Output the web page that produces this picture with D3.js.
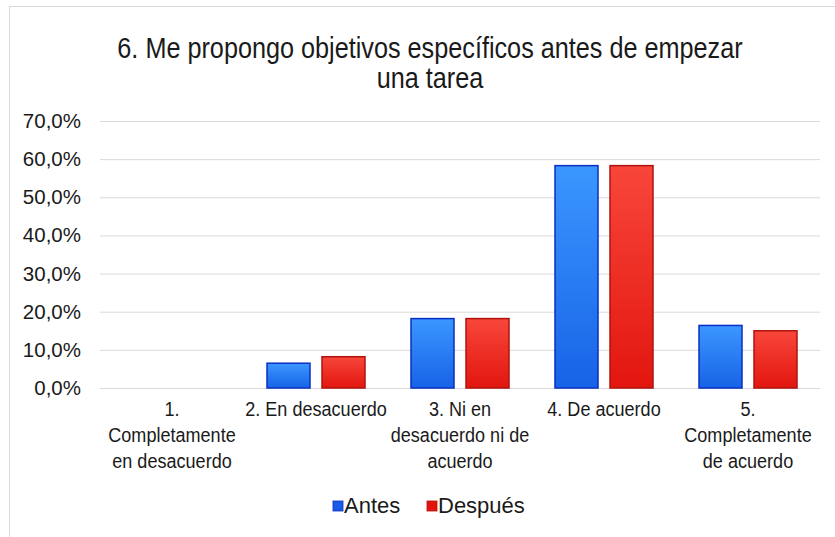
<!DOCTYPE html>
<html>
  <head>
    <meta charset="utf-8">
    <title>Me propongo objetivos</title>
    <script type="text/javascript" src="https://d3js.org/d3.v7.min.js"></script>
    <style>
      body { margin: 0; background: #fff; }
      text { font-family: "Liberation Sans", Arial, sans-serif; fill: #1a1a1a; }
    </style>
  </head>
  <body>
    <svg width="835" height="537"></svg>
    <script type="text/javascript">
      // data
      var categories = ["1. Completamente en desacuerdo", "2. En desacuerdo", "3. Ni en desacuerdo ni de acuerdo", "4. De acuerdo", "5. Completamente de acuerdo"];
      var categoryLines = [
        ["1.", "Completamente", "en desacuerdo"],
        ["2. En desacuerdo"],
        ["3. Ni en", "desacuerdo ni de", "acuerdo"],
        ["4. De acuerdo"],
        ["5.", "Completamente", "de acuerdo"]
      ];
      var seriesNames = ["Antes", "Después"];
      var antes = [0, 6.5, 18.2, 58.3, 16.4];
      var despues = [0, 8.2, 18.2, 58.3, 15.0];
      var yTicks = [0, 10, 20, 30, 40, 50, 60, 70];
      var titleLines = ["6. Me propongo objetivos específicos antes de empezar", "una tarea"];

      var svg = d3.select("svg");

      // chart frame
      svg.append("rect")
        .attr("x", 9.5).attr("y", 6.5)
        .attr("width", 900).attr("height", 600)
        .attr("fill", "none").attr("stroke", "#d9d9d9");

      var defs = svg.append("defs");
      function grad(id, top, bottom) {
        var g = defs.append("linearGradient").attr("id", id)
          .attr("x1", 0).attr("y1", 0).attr("x2", 0).attr("y2", 1);
        g.append("stop").attr("offset", "0%").attr("stop-color", top);
        g.append("stop").attr("offset", "100%").attr("stop-color", bottom);
      }
      grad("gBlue", "#3b97ff", "#1763e6");
      grad("gRed", "#f8463b", "#e2160f");
      var fills = ["url(#gBlue)", "url(#gRed)"];
      var strokes = ["#0a2fc4", "#b0130c"];
      var swatch = ["#1a5be8", "#e3140e"];

      var x0 = d3.scaleBand().domain(categories).range([100, 820])
        .paddingInner(0.3125).paddingOuter(0.15625);
      var x1 = d3.scaleBand().domain(seriesNames).range([0, x0.bandwidth()]).paddingInner(0.2);
      var y = d3.scaleLinear().domain([0, 70]).range([388, 121]);

      // title (squeezed a bit, the original font is a narrow one)
      svg.append("text")
        .attr("transform", "translate(430,58) scale(0.87,1)")
        .attr("text-anchor", "middle")
        .style("font-size", "29px")
        .selectAll("tspan").data(titleLines).enter().append("tspan")
        .attr("x", 0).attr("dy", function (d, i) { return i ? 30 : 0; })
        .text(function (d) { return d; });

      // gridlines + y labels
      var yAxis = d3.axisLeft(y).tickValues(yTicks).tickSize(-720)
        .tickFormat(function (d) { return d.toFixed(1).replace(".", ",") + "%"; });
      var ga = svg.append("g").attr("transform", "translate(100,0)").call(yAxis);
      ga.select(".domain").remove();
      ga.selectAll(".tick line").attr("stroke", "#d9d9d9");
      ga.selectAll(".tick text").attr("x", -19)
        .style("font-size", "20.5px").style("font-family", "Liberation Sans, Arial, sans-serif")
        .attr("fill", "#1a1a1a");

      // bars
      var rows = categories.map(function (c, i) { return { cat: c, vals: [antes[i], despues[i]] }; });
      var cg = svg.selectAll("g.cat").data(rows).enter().append("g")
        .attr("class", "cat")
        .attr("transform", function (d) { return "translate(" + x0(d.cat) + ",0)"; });
      cg.selectAll("rect").data(function (d) {
          return d.vals.map(function (v, j) { return { s: seriesNames[j], v: v, j: j }; });
        })
        .enter().append("rect")
        .filter(function (d) { return d.v > 0; })
        .attr("x", function (d) { return x1(d.s) + 0.5; })
        .attr("y", function (d) { return y(d.v); })
        .attr("width", x1.bandwidth() - 1)
        .attr("height", function (d) { return y(0) - y(d.v); })
        .attr("fill", function (d) { return fills[d.j]; })
        .attr("stroke", function (d) { return strokes[d.j]; })
        .attr("stroke-width", 1.5);

      // x labels
      svg.selectAll("text.xl").data(categories).enter().append("text")
        .attr("class", "xl")
        .attr("text-anchor", "middle")
        .attr("transform", function (d) {
          return "translate(" + (x0(d) + x0.bandwidth() / 2) + ",416) scale(0.86,1)";
        })
        .style("font-size", "21px")
        .each(function (d, i) {
          d3.select(this).selectAll("tspan").data(categoryLines[i]).enter().append("tspan")
            .attr("x", 0).attr("dy", function (t, k) { return k ? 26 : 0; })
            .text(function (t) { return t; });
        });

      // legend
      var legX = [333, 427];
      var lg = svg.selectAll("g.leg").data(seriesNames).enter().append("g")
        .attr("class", "leg")
        .attr("transform", function (d, i) { return "translate(" + legX[i] + ",501)"; });
      lg.append("rect").attr("width", 10).attr("height", 10)
        .attr("fill", function (d, i) { return swatch[i]; })
        .attr("stroke", function (d, i) { return strokes[i]; }).attr("stroke-width", 0.8);
      lg.append("text").attr("x", 11).attr("y", 12)
        .style("font-size", "22px")
        .text(function (d) { return d; });
    </script>
  </body>
</html>
